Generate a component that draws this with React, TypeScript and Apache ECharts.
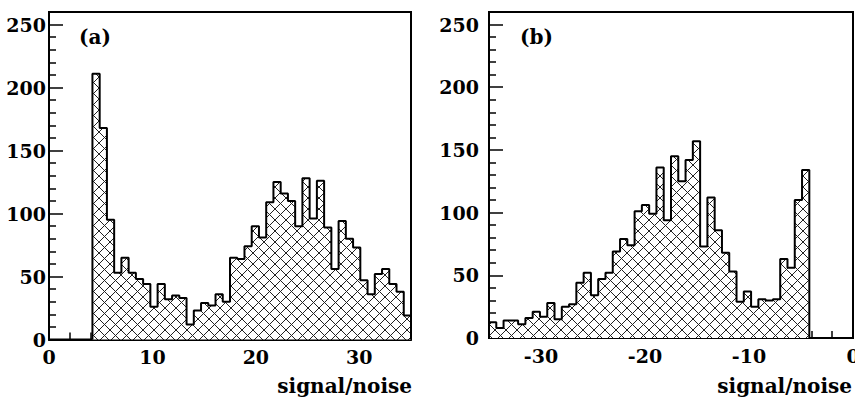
import React, { useEffect, useRef } from "react";
import * as echarts from "echarts";

// ---- data ----
const binWidth = 0.7;
const binStartA = 4.2;
const countsA = [
  211, 168, 95, 53, 65, 53, 48, 44, 26, 44, 32, 35, 33, 12, 23, 29, 27, 36, 30, 65, 64, 74,
  90, 81, 109, 125, 116, 110, 90, 128, 96, 126, 89, 56, 94, 80, 73, 47, 36, 52, 56, 44, 38, 19,
];
const binStartB = -35;
const countsB = [
  12.5, 8, 14, 14, 11, 16, 21, 17, 28, 15, 25, 27, 44, 52, 34, 47, 52, 69, 79, 74, 101, 106,
  99, 136, 94, 145, 125, 142, 157, 73, 112, 86, 68, 53, 29, 37, 25, 31, 30, 31, 63, 56, 110, 134,
];

const xRangeA = [0, 35];
const xRangeB = [-35, 0];
const yRange = [0, 260];
const xLabelsA = [0, 10, 20, 30];
const xLabelsB = [-30, -20, -10, 0];
const yLabels = [0, 50, 100, 150, 200, 250];
const xMinorA = [2, 4, 6, 8, 12, 14, 16, 18, 22, 24, 26, 28, 32, 34];
const xMinorB = [-34, -32, -28, -26, -24, -22, -18, -16, -14, -12, -8, -6, -4, -2];
const yMinor = [10, 20, 30, 40, 60, 70, 80, 90, 110, 120, 130, 140, 160, 170, 180, 190, 210, 220, 230, 240];
const panelTags = ["(a)", "(b)"];
const axisTitle = "signal/noise";

const FONT = "'DejaVu Serif', 'Liberation Serif', serif";

function outline(start: number, counts: number[]) {
  const pts: number[][] = [[start, 0]];
  counts.forEach((c, i) => pts.push([+(start + i * binWidth).toFixed(4), c]));
  pts.push([+(start + counts.length * binWidth).toFixed(4), 0]);
  return pts;
}

function makeHatch() {
  const s = 11;
  const c = document.createElement("canvas");
  c.width = s;
  c.height = s;
  const ctx = c.getContext("2d")!;
  ctx.fillStyle = "#fff";
  ctx.fillRect(0, 0, s, s);
  ctx.strokeStyle = "#222";
  ctx.lineWidth = 1;
  ctx.beginPath();
  ctx.moveTo(-1, -1);
  ctx.lineTo(s + 1, s + 1);
  ctx.moveTo(-1, s + 1);
  ctx.lineTo(s + 1, -1);
  ctx.stroke();
  return c;
}

export default function App() {
  const ref = useRef<HTMLDivElement>(null);
  useEffect(() => {
    if (!ref.current) return;
    const chart = echarts.init(ref.current, null, { renderer: "svg" });
    const hatch = makeHatch();
    const pattern: any = { image: hatch, repeat: "repeat", imageWidth: 11, imageHeight: 11 };

    const labelStyle = { color: "#000", fontFamily: FONT, fontWeight: "bold", fontSize: 19 };
    const majorX = (grid: number, range: number[], labels: number[]) => ({
      type: "value",
      gridIndex: grid,
      position: "bottom",
      min: range[0],
      max: range[1],
      axisLine: { show: true, onZero: false, lineStyle: { color: "#000", width: 2 } },
      axisTick: { show: true, inside: true, length: 14, customValues: labels, lineStyle: { color: "#000", width: 1.5 } },
      axisLabel: { show: true, customValues: labels, margin: 8, ...labelStyle },
      splitLine: { show: false },
    });
    const minorX = (grid: number, range: number[], vals: number[]) => ({
      type: "value",
      gridIndex: grid,
      position: "bottom",
      min: range[0],
      max: range[1],
      axisLine: { show: false, onZero: false },
      axisTick: { show: true, inside: true, length: 7, customValues: vals, lineStyle: { color: "#000", width: 1.5 } },
      axisLabel: { show: false },
      splitLine: { show: false },
    });
    const majorY = (grid: number, margin: number) => ({
      type: "value",
      gridIndex: grid,
      position: "left",
      min: yRange[0],
      max: yRange[1],
      axisLine: { show: true, onZero: false, lineStyle: { color: "#000", width: 2 } },
      axisTick: { show: true, inside: true, length: 14, customValues: yLabels, lineStyle: { color: "#000", width: 1.5 } },
      axisLabel: { show: true, customValues: yLabels, margin, ...labelStyle },
      splitLine: { show: false },
    });
    const minorY = (grid: number) => ({
      type: "value",
      gridIndex: grid,
      position: "left",
      min: yRange[0],
      max: yRange[1],
      axisLine: { show: false, onZero: false },
      axisTick: { show: true, inside: true, length: 7, customValues: yMinor, lineStyle: { color: "#000", width: 1.5 } },
      axisLabel: { show: false },
      splitLine: { show: false },
    });

    const histSeries = (xi: number, yi: number, start: number, counts: number[]) => ({
      type: "line",
      xAxisIndex: xi,
      yAxisIndex: yi,
      data: outline(start, counts),
      step: "end",
      symbol: "none",
      lineStyle: { color: "#000", width: 2 },
      areaStyle: { color: pattern, opacity: 1, origin: "start" },
      z: 2,
    });

    const textEl = (x: number, y: number, text: string, align: string) => ({
      type: "text",
      x,
      y,
      style: {
        text,
        fill: "#000",
        font: `bold 20px ${FONT}`,
        textAlign: align,
        textVerticalAlign: "middle",
      },
    });

    chart.setOption({
      animation: false,
      backgroundColor: "#fff",
      grid: [
        { left: 49, right: 444, top: 12, bottom: 58.5, show: true, borderColor: "#000", borderWidth: 2, backgroundColor: "transparent", outerBoundsMode: "none" },
        { left: 489, right: 2, top: 12, bottom: 60, show: true, borderColor: "#000", borderWidth: 2, backgroundColor: "transparent", outerBoundsMode: "none" },
      ],
      xAxis: [majorX(0, xRangeA, xLabelsA), minorX(0, xRangeA, xMinorA), majorX(1, xRangeB, xLabelsB), minorX(1, xRangeB, xMinorB)],
      yAxis: [majorY(0, 3), minorY(0), majorY(1, 10), minorY(1)],
      series: [histSeries(0, 0, binStartA, countsA), histSeries(2, 2, binStartB, countsB)],
      graphic: [
        textEl(79, 37, panelTags[0], "left"),
        textEl(520, 37, panelTags[1], "left"),
        textEl(412, 386, axisTitle, "right"),
        textEl(852, 386, axisTitle, "right"),
      ],
    });
    return () => chart.dispose();
  }, []);
  return (
    <div
      ref={ref}
      style={{ position: "fixed", left: 0, top: 0, width: 855, height: 398, background: "#fff" }}
    />
  );
}
